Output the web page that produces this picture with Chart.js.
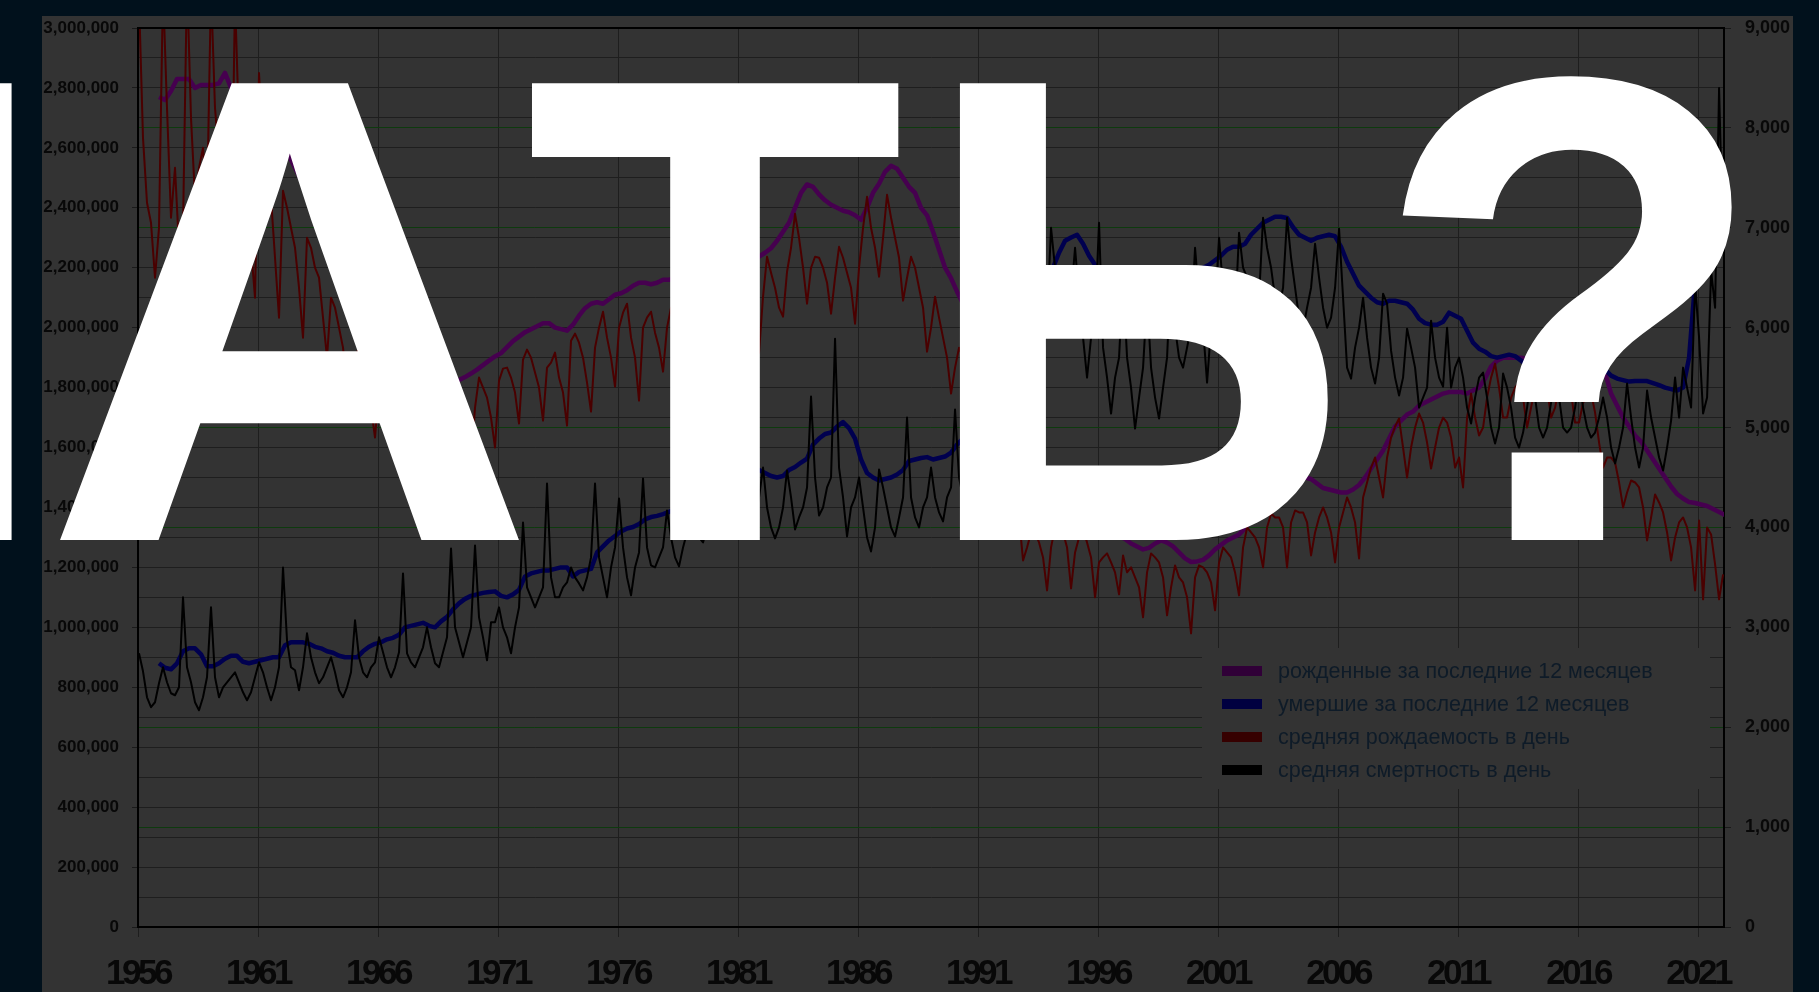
<!DOCTYPE html>
<html>
<head>
<meta charset="utf-8">
<script src="https://cdn.jsdelivr.net/npm/chart.js@4.4.1/dist/chart.umd.min.js"></script>
<style>
  html, body { margin: 0; padding: 0; background: #01111c; overflow: hidden; }
  #wrap { position: relative; width: 1819px; height: 992px; }
  canvas, svg { position: absolute; left: 0; top: 0; }
</style>
</head>
<body>
<div id="wrap">
  <canvas id="chart" width="1819" height="992"></canvas>
  <svg width="1819" height="992">
    <g fill="#fff" font-family="'Liberation Sans', Arial, sans-serif" font-weight="bold" font-size="664">
      <text x="56" y="540" text-anchor="end">Л</text>
      <text x="43" y="540" textLength="494" lengthAdjust="spacingAndGlyphs">А</text>
      <text x="525" y="540" textLength="380" lengthAdjust="spacingAndGlyphs">Т</text>
      <text x="920" y="540" textLength="429" lengthAdjust="spacingAndGlyphs">Ь</text>
      <text x="1373" y="540" textLength="396" lengthAdjust="spacingAndGlyphs">?</text>
    </g>
  </svg>
</div>
<script>
const legendLabels = [
  "рожденные за последние 12 месяцев",
  "умершие за последние 12 месяцев",
  "средняя рождаемость в день",
  "средняя смертность в день",
];
const yearTicks = [1956, 1961, 1966, 1971, 1976, 1981, 1986, 1991, 1996, 2001, 2006, 2011, 2016, 2021];

// 12-month totals, thousands, one point per quarter starting Nov 1956
const quarterStart = 1956.875;
const births12k = [
  2770,
  2760, 2790, 2830, 2830, 2830, 2800, 2810, 2810, 2810, 2815, 2850, 2800,
  2790, 2790, 2780, 2770, 2740, 2710, 2680, 2660, 2620, 2560, 2520, 2480,
  2440, 2400, 2360, 2330, 2280, 2220, 2170, 2120, 2080, 2040, 2010, 1990,
  1980, 1970, 1965, 1957, 1930, 1900, 1870, 1852, 1840, 1830, 1820, 1815,
  1815, 1825, 1835, 1847, 1860, 1875, 1890, 1904, 1915, 1935, 1955, 1970,
  1985, 1995, 2005, 2015, 2015, 2000, 1995, 1990, 2010, 2040, 2065, 2080,
  2085, 2080, 2095, 2110, 2115, 2125, 2140, 2150, 2150, 2145, 2150, 2160,
  2160, 2165, 2170, 2175, 2175, 2178, 2180, 2180, 2185, 2190, 2195, 2200,
  2205, 2215, 2225, 2237, 2250, 2265, 2290, 2320, 2350, 2400, 2450, 2478,
  2470, 2445, 2425, 2410, 2400, 2390, 2385, 2375, 2360, 2400, 2450, 2480,
  2520, 2540, 2530, 2500, 2470, 2450, 2400, 2375, 2320, 2260, 2200, 2165,
  2120, 2080, 2030, 1990, 1950, 1900, 1850, 1795, 1740, 1690, 1640, 1590,
  1530, 1480, 1420, 1380, 1380, 1390, 1400, 1408, 1400, 1385, 1370, 1363,
  1350, 1335, 1320, 1305, 1295, 1280, 1270, 1260, 1265, 1280, 1290, 1283,
  1270, 1250, 1230, 1218, 1220, 1225, 1240, 1260, 1275, 1290, 1300, 1310,
  1330, 1355, 1380, 1397, 1415, 1440, 1460, 1477, 1490, 1500, 1500, 1495,
  1480, 1465, 1460, 1455, 1450, 1450, 1460, 1475, 1500, 1530, 1560, 1590,
  1630, 1670, 1690, 1710, 1720, 1740, 1750, 1760, 1770, 1780, 1785, 1785,
  1785, 1780, 1790, 1800, 1830, 1870, 1890, 1900, 1900, 1900, 1900, 1895,
  1910, 1930, 1940, 1945, 1945, 1945, 1945, 1940, 1930, 1920, 1905, 1890,
  1850, 1780, 1740, 1700, 1670, 1640, 1620, 1590, 1560, 1530, 1500, 1470,
  1445, 1430, 1418, 1415, 1410, 1405, 1395, 1385,
  1375,
];
const deaths12k = [
  880,
  865, 860, 880, 920, 930, 930, 910, 870, 870, 880, 895, 905,
  905, 885, 880, 885, 890, 895, 900, 900, 940, 950, 950, 950,
  945, 935, 930, 920, 915, 905, 900, 900, 900, 920, 935, 945,
  950, 960, 965, 975, 1000, 1005, 1010, 1015, 1005, 1000, 1020, 1035,
  1060, 1080, 1095, 1105, 1110, 1115, 1118, 1120, 1105, 1100, 1110, 1125,
  1170, 1180, 1185, 1190, 1190, 1195, 1200, 1200, 1170, 1185, 1190, 1195,
  1250, 1270, 1290, 1305, 1320, 1330, 1335, 1345, 1360, 1368, 1372, 1378,
  1385, 1395, 1405, 1418, 1440, 1460, 1475, 1490, 1500, 1510, 1518, 1526,
  1525, 1525, 1525, 1525, 1515, 1505, 1500, 1505, 1525, 1535, 1550, 1563,
  1610, 1630, 1645, 1650, 1670, 1685, 1665, 1630, 1560, 1515, 1500, 1490,
  1495, 1500, 1510, 1525, 1555, 1560, 1565, 1568, 1560, 1565, 1570, 1583,
  1610, 1630, 1645, 1656, 1665, 1675, 1685, 1691, 1720, 1750, 1780, 1807,
  1880, 1980, 2060, 2129, 2200, 2250, 2290, 2301, 2310, 2280, 2240, 2210,
  2180, 2140, 2110, 2082, 2060, 2040, 2025, 2015, 2000, 1990, 1985, 1988,
  2020, 2060, 2100, 2144, 2180, 2200, 2210, 2225, 2240, 2260, 2270, 2270,
  2280, 2310, 2330, 2350, 2360, 2370, 2370, 2366, 2335, 2310, 2300, 2290,
  2300, 2305, 2310, 2305, 2270, 2220, 2180, 2140, 2120, 2100, 2085, 2080,
  2090, 2090, 2085, 2080, 2060, 2030, 2015, 2010, 2010, 2020, 2050, 2040,
  2030, 1990, 1950, 1930, 1920, 1905, 1900, 1905, 1910, 1905, 1890, 1875,
  1880, 1895, 1905, 1912, 1910, 1905, 1900, 1905, 1900, 1895, 1890, 1888,
  1860, 1840, 1830, 1825, 1820, 1822, 1822, 1822, 1815, 1808, 1800, 1795,
  1790, 1800, 1900, 2150, 2210, 2280, 2350, 2430,
  2450,
];

// per-day averages, one point every two months starting Jan 1956
const monthStart = 1956 + 1 / 24;
const birthsDaily = [
  9300, 7900, 7250, 7050, 6500, 7000,  9400, 8200, 7100, 7600, 6800, 7000,
  9500, 8100, 7300, 7600, 7800, 7200,  9400, 8200, 7700, 7300, 6900, 6700,
  9300, 8000, 7500, 7300, 6800, 6300,  8550, 7800, 7500, 7300, 6700, 6100,
  7370, 7200, 7000, 6800, 6400, 5900,  6900, 6800, 6600, 6500, 6100, 5700,
  6300, 6200, 6000, 5800, 5400, 5200,  5700, 5800, 5600, 5500, 5200, 4900,
  5400, 5650, 5550, 5450, 5200, 4850,  5100, 5350, 5250, 5150, 4950, 4600,
  5000, 5250, 5150, 5050, 4850, 4550,  5050, 5300, 5250, 5150, 4950, 4650,
  5200, 5500, 5400, 5300, 5100, 4800,  5470, 5590, 5600, 5500, 5350, 5040,
  5680, 5780, 5700, 5550, 5400, 5070,  5600, 5650, 5750, 5500, 5350, 5020,
  5870, 5940, 5850, 5700, 5450, 5160,  5800, 6000, 6160, 5900, 5700, 5410,
  6000, 6150, 6240, 5900, 5700, 5270,  6000, 6100, 6160, 5950, 5800, 5560,
  6000, 6200, 6150, 6050, 5900, 5550,  6050, 6250, 6200, 6050, 5850, 5600,
  6100, 6300, 6250, 6100, 5900, 5650,  6200, 6400, 6350, 6200, 6000, 5750,
  6310, 6710, 6550, 6400, 6200, 6110,  6560, 6800, 7140, 6900, 6600, 6240,
  6600, 6710, 6700, 6600, 6450, 6140,  6500, 6810, 6700, 6550, 6400, 6040,
  6600, 7000, 7310, 7000, 6800, 6510,  6900, 7330, 7100, 6900, 6700, 6270,
  6500, 6710, 6600, 6400, 6200, 5760,  6000, 6310, 6100, 5900, 5700, 5340,
  5600, 5800, 5700, 5500, 5300, 4950,  5000, 5300, 5100, 4950, 4750, 4400,
  4500, 4700, 4500, 4400, 4100, 3670,  3800, 3950, 3940, 3850, 3700, 3370,
  3800, 4000, 4000, 3950, 3800, 3390,  3750, 3900, 3970, 3850, 3700, 3300,
  3650, 3700, 3740, 3650, 3550, 3330,  3720, 3550, 3600, 3500, 3400, 3100,
  3550, 3740, 3700, 3650, 3500, 3120,  3400, 3620, 3500, 3450, 3300, 2940,
  3500, 3620, 3600, 3550, 3450, 3170,  3650, 3800, 3750, 3700, 3550, 3320,
  3800, 4000, 3950, 3900, 3800, 3600,  4000, 4140, 4100, 4100, 4000, 3600,
  4050, 4170, 4150, 4150, 4050, 3720,  3950, 4100, 4200, 4100, 3950, 3650,
  4000, 4150, 4300, 4200, 4050, 3690,  4300, 4450, 4600, 4700, 4500, 4300,
  4700, 4900, 5010, 5090, 4800, 4500,  4800, 5000, 5140, 5050, 4850, 4590,
  4800, 5000, 5100, 5050, 4900, 4600,  4700, 4400, 5100, 5340, 5100, 4920,
  5000, 5300, 5500, 5640, 5400, 5100,  5100, 5300, 5400, 5450, 5300, 5000,
  5200, 5400, 5500, 5550, 5400, 5100,  5200, 5400, 5450, 5500, 5350, 5050,
  5050, 5250, 5300, 5350, 5150, 4850,  4600, 4700, 4700, 4650, 4450, 4200,
  4350, 4470, 4450, 4400, 4200, 3870,  4100, 4330, 4250, 4150, 3950, 3670,
  3900, 4050, 4100, 4000, 3800, 3370,  4070, 3280, 4000, 3930, 3630, 3280,
  3530,
];
const deathsDaily = [
  2740, 2560, 2300, 2200, 2250, 2440,  2600, 2450, 2340, 2320, 2400, 3300,
  2600, 2450, 2250, 2170, 2300, 2500,  3200, 2500, 2300, 2400, 2450, 2500,
  2550, 2450, 2350, 2270, 2350, 2500,  2650, 2550, 2400, 2270, 2400, 2600,
  3600, 2870, 2600, 2570, 2370, 2600,  2940, 2700, 2550, 2440, 2500, 2600,
  2700, 2550, 2370, 2300, 2400, 2550,  3070, 2700, 2550, 2500, 2600, 2650,
  2900, 2750, 2600, 2500, 2600, 2750,  3540, 2740, 2650, 2600, 2700, 2800,
  3000, 2800, 2640, 2600, 2750, 2900,  3790, 3000, 2850, 2700, 2850, 3000,
  3820, 3100, 2900, 2670, 3050, 3050,  3200, 3000, 2900, 2740, 3000, 3200,
  4050, 3400, 3300, 3200, 3300, 3400,  4440, 3500, 3300, 3300, 3400, 3450,
  3600, 3500, 3440, 3370, 3500, 3700,  4440, 3700, 3500, 3300, 3600, 3800,
  4290, 3800, 3500, 3320, 3600, 3750,  4490, 3800, 3620, 3600, 3700, 3800,
  4170, 3900, 3700, 3610, 3800, 3950,  4600, 4100, 3900, 3850, 4000, 4150,
  4700, 4200, 4000, 3950, 4100, 4250,  4750, 4200, 4000, 3950, 4100, 4300,
  4600, 4200, 4000, 3890, 4000, 4200,  4570, 4300, 3980, 4100, 4200, 4400,
  5310, 4500, 4120, 4200, 4400, 4500,  5890, 4600, 4300, 3910, 4200, 4300,
  4500, 4200, 3900, 3760, 4000, 4580,  4400, 4200, 4000, 3910, 4100, 4300,
  5100, 4300, 4100, 4000, 4200, 4300,  4600, 4300, 4150, 4060, 4300, 4400,
  5180, 4500, 4300, 4200, 4400, 4600,  5200, 4700, 4500, 4400, 4500, 4700,
  5400, 5000, 4800, 4700, 4800, 5200,  6300, 6000, 5700, 5500, 5700, 6100,
  7000, 6600, 6300, 6100, 6200, 6300,  6800, 6300, 5900, 5500, 5900, 6100,
  7050, 5800, 5500, 5140, 5500, 5700,  6500, 5700, 5400, 4990, 5300, 5600,
  6300, 5600, 5300, 5090, 5400, 5700,  6600, 6000, 5700, 5600, 5800, 6000,
  6800, 6300, 6000, 5450, 6000, 6200,  6900, 6400, 6100, 5900, 6100, 6950,
  6600, 6500, 6300, 6100, 6300, 7100,  6800, 6600, 6300, 6200, 6400, 7100,
  6700, 6400, 6100, 5980, 6200, 6400,  6840, 6500, 6200, 6000, 6100, 6400,
  6990, 6300, 5600, 5490, 5800, 6000,  6300, 5900, 5600, 5440, 5700, 6340,
  6240, 5770, 5500, 5320, 5500, 5990,  5800, 5600, 5200, 5300, 5400, 6070,
  5700, 5500, 5410, 6000, 5400, 5600,  5700, 5500, 5200, 5040, 5300, 5500,
  5550, 5300, 5000, 4840, 5000, 5540,  5400, 5200, 4900, 4800, 4950, 5200,
  5500, 5300, 5000, 4900, 5000, 5250,  5600, 5300, 5000, 4950, 5000, 5200,
  5500, 5200, 5000, 4900, 4950, 5100,  5300, 5100, 4800, 4640, 4800, 5000,
  5440, 5100, 4800, 4600, 4800, 5370,  5100, 4900, 4700, 4570, 4800, 5070,
  5500, 5100, 5600, 5400, 5200, 6440,  5900, 5140, 5300, 6570, 6200, 8400,
  6800,
];

const lineColors = ["#46004f", "#00004f", "#4a0000", "#000000"];
const swatchColors = ["#300037", "#000040", "#360000", "#000000"];

const quarterly = (arr) => arr.map((v, i) => ({ x: quarterStart + i * 0.25, y: v * 1000 }));
const bimonthly = (arr) => arr.map((v, i) => ({ x: monthStart + i / 6, y: v }));

const panel = {
  id: "panel",
  beforeDraw(chart) {
    const c = chart.ctx;
    c.save();
    c.fillStyle = "#01111c";
    c.fillRect(0, 0, chart.width, chart.height);
    c.fillStyle = "#333333";
    c.fillRect(42, 16, 1751, 976);
    c.restore();
  },
  afterLayout(chart) {
    // year labels in the original are a condensed bold face; tighten them
    const s = chart.scales.x;
    if (s && !s._tight) {
      const orig = s.drawLabels;
      s.drawLabels = function (area) {
        this.ctx.save();
        this.ctx.letterSpacing = "-3.5px";
        orig.call(this, area);
        this.ctx.restore();
      };
      s._tight = true;
    }
  },
  afterDatasetsDraw(chart) {
    const c = chart.ctx;
    const a = chart.chartArea;
    c.save();
    // legend box sits inside the plot area, opaque
    c.fillStyle = "#333333";
    c.fillRect(1202, 648, 508, 141);
    c.font = "21.5px Arial";
    c.textBaseline = "middle";
    legendLabels.forEach((t, i) => {
      const y = 671 + i * 33;
      c.fillStyle = swatchColors[i];
      c.fillRect(1222, y - 5, 40, 10);
      c.fillStyle = "#0e1b28";
      c.fillText(t, 1278, y + 1);
    });
    // top edge of plot frame
    c.strokeStyle = "#000";
    c.lineWidth = 2;
    c.beginPath();
    c.moveTo(a.left, a.top);
    c.lineTo(a.right, a.top);
    c.stroke();
    c.restore();
  },
};

new Chart(document.getElementById("chart"), {
  type: "line",
  data: {
    datasets: [
      { label: legendLabels[0], data: quarterly(births12k), yAxisID: "y", borderColor: lineColors[0], borderWidth: 4.5, order: 3 },
      { label: legendLabels[1], data: quarterly(deaths12k), yAxisID: "y", borderColor: lineColors[1], borderWidth: 4.5, order: 2 },
      { label: legendLabels[2], data: bimonthly(birthsDaily), yAxisID: "y2", borderColor: lineColors[2], borderWidth: 2, order: 1 },
      { label: legendLabels[3], data: bimonthly(deathsDaily), yAxisID: "y2", borderColor: lineColors[3], borderWidth: 2, order: 0 },
    ],
  },
  options: {
    responsive: false,
    animation: false,
    devicePixelRatio: 1,
    layout: { padding: { top: 28, left: 0, right: 0, bottom: 0 } },
    elements: { point: { radius: 0 }, line: { tension: 0, borderJoinStyle: "round" } },
    plugins: { legend: { display: false }, tooltip: { enabled: false } },
    scales: {
      x: {
        type: "linear",
        min: 1956,
        max: 2022.08,
        afterBuildTicks: (s) => { s.ticks = yearTicks.map((v) => ({ value: v })); },
        afterFit: (s) => { s.height = 65; },
        ticks: {
          autoSkip: false, maxRotation: 0, padding: 16, color: "#080808",
          font: { family: "Arial", size: 35, weight: "bold" },
          callback: (v) => String(v),
        },
        grid: { color: "#1e1e1e", lineWidth: 1, tickLength: 10, tickColor: "#1e1e1e" },
        border: { color: "#000", width: 2 },
      },
      y: {
        position: "left",
        min: 0,
        max: 3000000,
        afterFit: (s) => { s.width = 138; },
        ticks: {
          stepSize: 100000, padding: 13, color: "#080808",
          font: { family: "Arial", size: 17, weight: "bold" },
          callback: (v) => (v % 200000 === 0 ? v.toLocaleString("en-US") : ""),
        },
        grid: {
          color: "#1e1e1e", lineWidth: 1, tickLength: 6,
          tickColor: (ctx) => (ctx.tick && ctx.tick.value % 200000 === 0 ? "#1a1a1a" : "transparent"),
        },
        border: { color: "#000", width: 2 },
      },
      y2: {
        position: "right",
        min: 0,
        max: 9000,
        afterFit: (s) => { s.width = 95; },
        ticks: {
          stepSize: 1000, padding: 14, color: "#080808",
          font: { family: "Arial", size: 18, weight: "bold" },
          callback: (v) => v.toLocaleString("en-US"),
        },
        grid: {
          lineWidth: 1, tickLength: 7, tickColor: "#1a1a1a",
          color: (ctx) => (ctx.tick && ctx.tick.value % 3000 !== 0 ? "#0e3a0e" : "transparent"),
        },
        border: { color: "#000", width: 2 },
      },
    },
  },
  plugins: [panel],
});
</script>
</body>
</html>
